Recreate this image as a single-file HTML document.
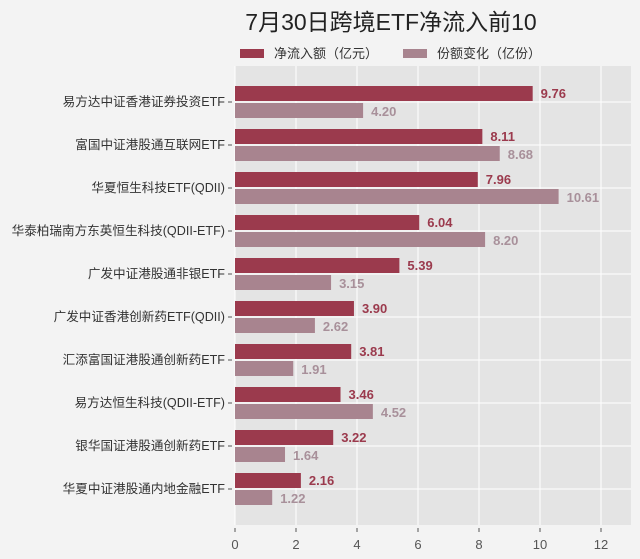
<!DOCTYPE html>
<html><head><meta charset="utf-8"><style>
body{margin:0;background:#f3f3f3;font-family:"Liberation Sans","Noto Sans CJK SC",sans-serif;}
svg{display:block}
</style></head><body>
<svg id="c" width="640" height="559">
<text x="391" y="30" text-anchor="middle" font-size="23" fill="#222" font-family="Liberation Sans,Noto Sans CJK SC,sans-serif">7月30日跨境ETF净流入前10</text>
<g>
<rect x="240" y="49" width="24" height="9" fill="#9b3a4d"/>
<text x="274" y="58" font-size="13" fill="#333">净流入额（亿元）</text>
<rect x="403" y="49" width="24" height="9" fill="#a8848f"/>
<text x="437" y="58" font-size="13" fill="#333">份额变化（亿份）</text>
</g>
<rect x="235" y="66" width="396" height="459" fill="#e4e4e4"/>
<g id="g"></g>
</svg>
<script>
const categories=["易方达中证香港证券投资ETF","富国中证港股通互联网ETF","华夏恒生科技ETF(QDII)","华泰柏瑞南方东英恒生科技(QDII-ETF)","广发中证港股通非银ETF","广发中证香港创新药ETF(QDII)","汇添富国证港股通创新药ETF","易方达恒生科技(QDII-ETF)","银华国证港股通创新药ETF","华夏中证港股通内地金融ETF"];
const inflow=[9.76,8.11,7.96,6.04,5.39,3.90,3.81,3.46,3.22,2.16];
const shares=[4.20,8.68,10.61,8.20,3.15,2.62,1.91,4.52,1.64,1.22];
const ticks=[0,2,4,6,8,10,12];
const NS="http://www.w3.org/2000/svg";
const g=document.getElementById('g');
const x=v=>235+v*30.5;
const y=i=>102+i*43;
function mk(t,a){const e=document.createElementNS(NS,t);for(const k in a)e.setAttribute(k,a[k]);g.appendChild(e);return e;}
ticks.forEach(t=>{
 const l=mk('line',{x1:x(t),x2:x(t),y1:66,y2:525,stroke:'#fff','stroke-width':1});
 
 
 const tk=mk('line',{x1:x(t),x2:x(t),y1:528,y2:532,stroke:'#555'});
 
 
 const tx=mk('text',{x:x(t),y:549,'text-anchor':'middle','font-size':13,fill:'#555'});
 tx.textContent=t;
 
 
});
categories.forEach((c,i)=>{
 const l=mk('line',{x1:235,x2:631,y1:y(i),y2:y(i),stroke:'#fff','stroke-width':1});
 
 
 const tk=mk('line',{x1:228,x2:232,y1:y(i),y2:y(i),stroke:'#555'});
 
 
 const t=mk('text',{x:225,y:y(i)+4,'text-anchor':'end','font-size':12.6,fill:'#333'});
 t.textContent=c;
 
 
 const b1=mk('rect',{x:235,y:y(i)-16,width:x(inflow[i])-235,height:15,fill:'#9b3a4d'});
 
 
 const b2=mk('rect',{x:235,y:y(i)+1,width:x(shares[i])-235,height:15,fill:'#a8848f'});
 
 
 const v1=mk('text',{x:x(inflow[i])+8,y:y(i)-4,'font-size':13,'font-weight':'bold',fill:'#9b3a4d'});
 v1.textContent=inflow[i].toFixed(2);
 
 
 const v2=mk('text',{x:x(shares[i])+8,y:y(i)+14,'font-size':13,'font-weight':'bold',fill:'#a8909a'});
 v2.textContent=shares[i].toFixed(2);
 
 
});
</script>
</body></html>
